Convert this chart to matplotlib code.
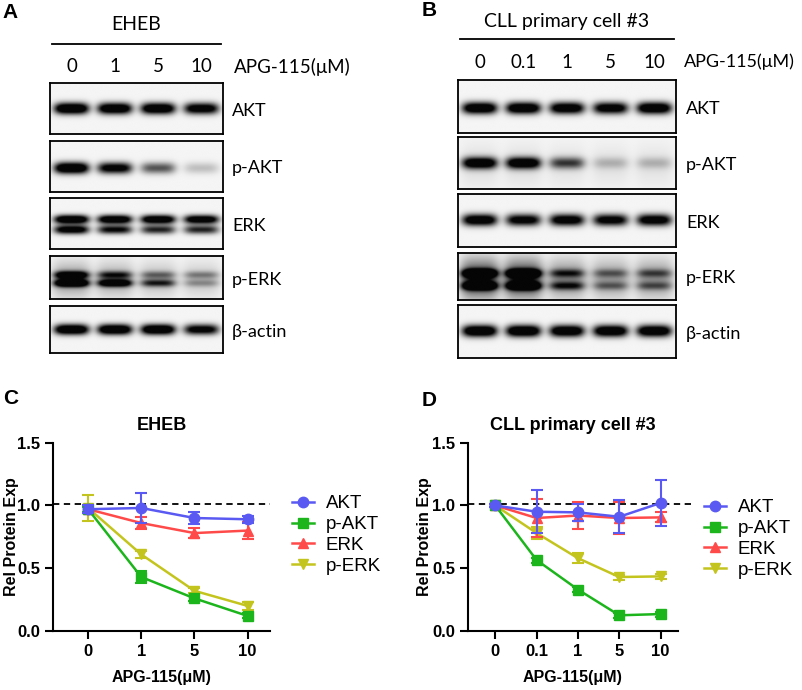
import numpy as np
import matplotlib
matplotlib.use('Agg')
from matplotlib import pyplot as plt
from matplotlib.lines import Line2D

# ---- data -------------------------------------------------------------
proteins = ['AKT', 'p-AKT', 'ERK', 'p-ERK']
blot_rows = ['AKT', 'p-AKT', 'ERK', 'p-ERK', 'β-actin']

doses_eheb = ['0', '1', '5', '10']
doses_cll = ['0', '0.1', '1', '5', '10']

# quantification, panel C (EHEB)
eheb_mean = {
    'AKT': [0.97, 0.98, 0.90, 0.89],
    'p-AKT': [0.97, 0.43, 0.26, 0.12],
    'ERK': [0.97, 0.86, 0.78, 0.80],
    'p-ERK': [0.98, 0.61, 0.32, 0.20],
}
eheb_sd = {
    'AKT': [0.03, 0.12, 0.05, 0.03],
    'p-AKT': [0.02, 0.05, 0.02, 0.02],
    'ERK': [0.03, 0.05, 0.04, 0.07],
    'p-ERK': [0.10, 0.03, 0.02, 0.03],
}

# quantification, panel D (CLL primary cell #3)
cll_mean = {
    'AKT': [1.00, 0.95, 0.945, 0.91, 1.02],
    'p-AKT': [1.00, 0.565, 0.33, 0.125, 0.135],
    'ERK': [1.00, 0.90, 0.92, 0.90, 0.905],
    'p-ERK': [1.00, 0.78, 0.58, 0.43, 0.435],
}
cll_sd = {
    'AKT': [0.01, 0.17, 0.07, 0.13, 0.18],
    'p-AKT': [0.01, 0.02, 0.02, 0.02, 0.02],
    'ERK': [0.01, 0.15, 0.11, 0.13, 0.04],
    'p-ERK': [0.01, 0.05, 0.04, 0.02, 0.02],
}

# band intensities read off the blots (0 = no band, 1 = saturated)
eheb_bands = {
    'AKT': [[1.0, 0.95, 0.95, 0.85]],
    'p-AKT': [[1.0, 0.8, 0.45, 0.15]],
    'ERK': [[1.0, 0.95, 0.95, 0.9], [0.85, 0.7, 0.6, 0.6]],
    'p-ERK': [[0.8, 0.5, 0.3, 0.25], [1.0, 0.85, 0.5, 0.2]],
    'β-actin': [[1.0, 1.0, 1.0, 0.8]],
}
eheb_smear = {'p-ERK': [0.25, 0.2, 0.15, 0.12]}

cll_bands = {
    'AKT': [[0.95, 0.95, 0.9, 0.85, 0.95]],
    'p-AKT': [[0.9, 0.9, 0.5, 0.15, 0.15]],
    'ERK': [[0.9, 0.8, 0.85, 0.8, 0.85]],
    'p-ERK': [[1.0, 1.0, 0.4, 0.25, 0.3], [0.95, 0.95, 0.45, 0.25, 0.28]],
    'β-actin': [[1.0, 1.0, 0.95, 0.95, 0.95]],
}
cll_smear = {'p-ERK': [0.55, 0.55, 0.3, 0.25, 0.27],
             'p-AKT': [0.06, 0.06, 0.05, 0.05, 0.05]}

# ---- style ------------------------------------------------------------
W, H = 803, 690
colors = {'AKT': '#5A5AF2', 'p-AKT': '#1CB51C', 'ERK': '#FF4A4A', 'p-ERK': '#C4C41E'}
markers = {'AKT': 'o', 'p-AKT': 's', 'ERK': '^', 'p-ERK': 'v'}
blot_font = ['Lato', 'Open Sans', 'DejaVu Sans']
plt.rcParams['font.family'] = ['Liberation Sans', 'DejaVu Sans']


def rect(x0, y0, x1, y1):
    return [x0 / W, 1 - y1 / H, (x1 - x0) / W, (y1 - y0) / H]


def fig_text(fig, x, y, s, **kw):
    fig.text(x / W, 1 - y / H, s, **kw)


def draw_band_image(ax, bands, smear, n, ypos):
    rows, cols = 120, 400
    yy, xx = np.mgrid[0:rows, 0:cols]
    xf = (xx + 0.5) / cols
    yf = (yy + 0.5) / rows
    dark = np.zeros((rows, cols))
    for k, inten in enumerate(bands):
        y0 = ypos[k]
        sy = 0.11 if len(bands) == 1 else 0.085
        for i, v in enumerate(inten):
            xc = (i + 0.5) / n
            hw = 0.40 / n
            px = np.exp(-(np.abs(xf - xc) / hw) ** 4)
            py = np.exp(-((yf - y0) / sy) ** 2)
            dark += v * px * py
    if smear is not None:
        for i, v in enumerate(smear):
            xc = (i + 0.5) / n
            hw = 0.45 / n
            px = np.exp(-(np.abs(xf - xc) / hw) ** 4)
            py = np.exp(-((yf - 0.55) / 0.4) ** 2)
            dark += v * px * py
    img = 0.96 - 0.94 * np.clip(dark * 1.5, 0, 1)
    ax.imshow(img, cmap='gray', vmin=0, vmax=1, extent=(0, 1, 1, 0),
              aspect='auto', interpolation='bilinear')
    ax.set_xticks([])
    ax.set_yticks([])
    for sp in ax.spines.values():
        sp.set_linewidth(1.3)


def blot_panel(fig, title, doses, bands, smear, x0, x1, boxes, band_y,
               title_y, line_y, dose_y, lab_dx, unit_x, unit_size):
    n = len(doses)
    for name, (y0, y1) in zip(blot_rows, boxes):
        ax = fig.add_axes(rect(x0, y0, x1, y1))
        draw_band_image(ax, bands[name], smear.get(name), n, band_y[name])
        fig_text(fig, x1 + lab_dx, (y0 + y1) / 2 + 2, name, family=blot_font,
                 fontsize=13, va='center', ha='left')
    cx = (x0 + x1) / 2
    fig_text(fig, cx, title_y, title, family=blot_font, fontsize=14,
             ha='center', va='center')
    fig.add_artist(Line2D([(x0 + 2) / W, (x1 - 2) / W],
                          [1 - line_y / H, 1 - line_y / H],
                          color='black', lw=1.3))
    for i, d in enumerate(doses):
        lx = x0 + (x1 - x0) * (i + 0.5) / n
        fig_text(fig, lx, dose_y, d, family=blot_font, fontsize=13.5,
                 ha='center', va='center')
    fig_text(fig, unit_x, dose_y, 'APG-115(μM)', family=blot_font,
             fontsize=unit_size, ha='left', va='center')


def line_panel(fig, ax, title, doses, mean, sd, legend_xy, dash_ext, ylab_x):
    x = np.arange(len(doses))
    handles = []
    for z, p in enumerate(proteins):
        ax.errorbar(x, mean[p], yerr=sd[p], color=colors[p], marker=markers[p],
                    markersize=7.5, lw=1.8, elinewidth=1.5, capsize=4,
                    capthick=1.5, zorder=10 - z, clip_on=False)
        handles.append(Line2D([], [], color=colors[p], marker=markers[p],
                              markersize=7.5, lw=1.8, label=p))
    xl = (-0.66, len(doses) - 0.58)
    ax.plot([xl[0], xl[1] + dash_ext], [1.01, 1.01], color='black', lw=1.3,
            ls=(0, (3.5, 2.5)), clip_on=False, zorder=1)
    ax.set_xlim(*xl)
    ax.set_ylim(0, 1.5)
    ax.set_xticks(x)
    ax.set_xticklabels(doses)
    ax.set_yticks([0, 0.5, 1.0, 1.5])
    ax.set_yticklabels(['0.0', '0.5', '1.0', '1.5'])
    for sp in ['top', 'right']:
        ax.spines[sp].set_visible(False)
    for sp in ['left', 'bottom']:
        ax.spines[sp].set_linewidth(1.5)
    ax.tick_params(direction='out', length=6, width=1.5, labelsize=12, pad=3)
    for lab in ax.get_xticklabels() + ax.get_yticklabels():
        lab.set_fontweight('bold')
    ax.set_xlabel('APG-115(μM)', fontsize=11.5, fontweight='bold', labelpad=8)
    ax.set_ylabel('Rel Protein Exp', fontsize=11.5, fontweight='bold')
    ax.yaxis.set_label_coords(ylab_x, 0.5)
    ax.set_title(title, fontsize=13, fontweight='bold', pad=9)
    ax.legend(handles=handles, loc='center left',
              bbox_to_anchor=(legend_xy[0] / W, 1 - legend_xy[1] / H),
              bbox_transform=fig.transFigure, frameon=False, fontsize=13.5,
              handlelength=1.2, handletextpad=0.6, labelspacing=0.2,
              borderpad=0, borderaxespad=0)


def main():
    fig = plt.figure(figsize=(W / 100, H / 100), dpi=100)

    # panel A
    blot_panel(fig, 'EHEB', doses_eheb, eheb_bands, eheb_smear, 50, 223,
               [(83, 134), (141, 192), (198, 249), (256, 299), (306, 353)],
               {'AKT': [0.5], 'p-AKT': [0.53], 'ERK': [0.42, 0.62],
                'p-ERK': [0.44, 0.63], 'β-actin': [0.5]},
               title_y=25, line_y=44, dose_y=67, lab_dx=9,
               unit_x=234, unit_size=13.5)
    # panel B
    blot_panel(fig, 'CLL primary cell #3', doses_cll, cll_bands, cll_smear, 458, 676,
               [(80, 133), (137, 189), (194, 247), (253, 300), (305, 358)],
               {'AKT': [0.53], 'p-AKT': [0.5], 'ERK': [0.49],
                'p-ERK': [0.43, 0.7], 'β-actin': [0.49]},
               title_y=21, line_y=39, dose_y=62, lab_dx=10,
               unit_x=684, unit_size=13)

    # panels C and D
    axc = fig.add_axes(rect(53, 442.7, 270, 631))
    line_panel(fig, axc, 'EHEB', doses_eheb, eheb_mean, eheb_sd, (292, 535),
               0.0, -0.155)
    axd = fig.add_axes(rect(468, 442.7, 678, 631))
    line_panel(fig, axd, 'CLL primary cell #3', doses_cll, cll_mean, cll_sd,
               (704, 539), 0.37, -0.17)

    for letter, x, y in [('A', 2, 12), ('B', 422, 10), ('C', 3, 399), ('D', 422, 400)]:
        fig_text(fig, x, y, letter, fontsize=15, fontweight='bold',
                 ha='left', va='center')

    fig.savefig('out.png', dpi=100)


if __name__ == '__main__':
    main()
